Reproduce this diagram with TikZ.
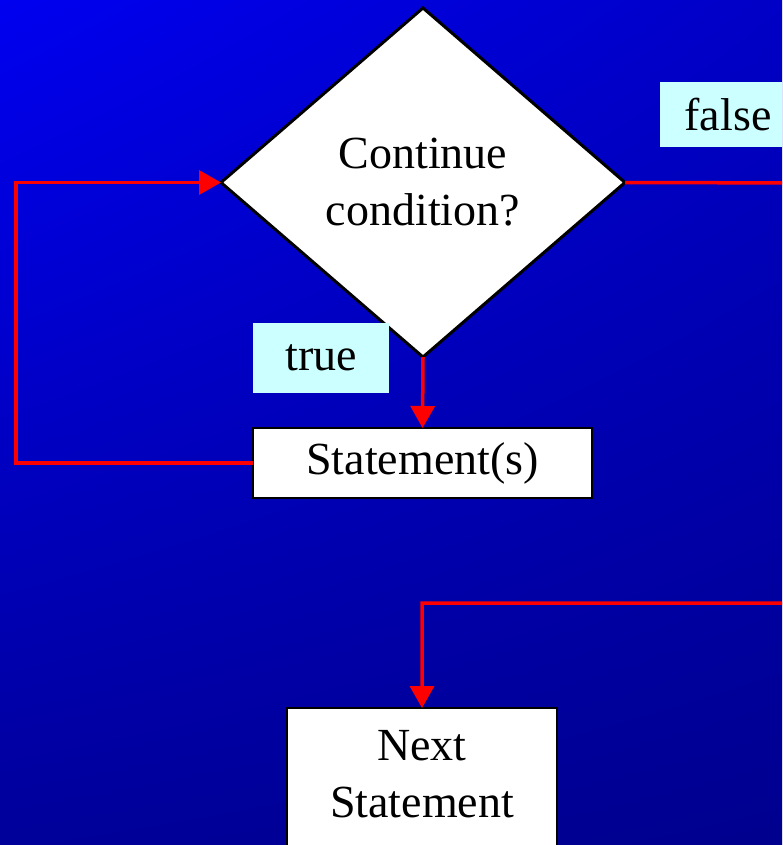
\documentclass[tikz,border=0pt]{standalone}
\usepackage{fontspec}
\setmainfont{Liberation Serif}
\usetikzlibrary{shapes.geometric,arrows.meta,shadings}

\definecolor{bgTL}{HTML}{0000F0}
\definecolor{bgTR}{HTML}{0000C6}
\definecolor{bgBL}{HTML}{00009A}
\definecolor{bgBR}{HTML}{00008E}
\definecolor{tagfill}{HTML}{CCFFFF}
\definecolor{flowred}{HTML}{FF0000}

\tikzset{
  bigtext/.style={font=\fontsize{46}{57}\selectfont, text=black, align=center},
  decision/.style={diamond, draw=black, fill=white, line width=3pt, inner sep=0pt,
    outer sep=0pt, minimum width=404pt, minimum height=349pt, bigtext},
  stepbox/.style={rectangle, draw=black, fill=white, line width=2.5pt, inner sep=0pt,
    outer sep=0pt, bigtext},
  tag/.style={rectangle, fill=tagfill, inner sep=0pt, bigtext},
  flow/.style={draw=flowred, line width=3.5pt,
    -{Triangle[width=24pt,length=22pt]}},
}

\begin{document}
\begin{tikzpicture}[x=1pt,y=-1pt]
  \useasboundingbox (0,0) rectangle (782,845);
  \clip (0,0) rectangle (782,845);
  % slide background
  \shade[upper left=bgTL, upper right=bgTR, lower left=bgBL, lower right=bgBR]
    (0,0) rectangle (782,845);

  % nodes
  \node[decision] (dia) at (423,182.5) {Continue\\condition?};
  \node[stepbox, minimum width=339pt, minimum height=70pt] (stmt) at (422.5,463) {Statement(s)};
  \node[stepbox, minimum width=270pt, minimum height=160pt, anchor=north] (next) at (422,708) {};
  \node[bigtext, anchor=base] (nextA) at (422,760) {Next};
  \node[bigtext, anchor=base] (nextB) at (422,817) {Statement};

  \node[tag, minimum width=136pt, minimum height=70pt] (true) at (321,358) {true};
  \node[tag, minimum width=136pt, minimum height=65pt] (false) at (728,114.5) {false};

  % helper points for the routed connectors
  \coordinate (loopx) at (16,463);
  \coordinate (fr1) at (810,183);
  \coordinate (fr2) at (810,603);

  % connectors
  \draw[flow] (dia.south) -- (stmt.north);
  \draw[flow] (stmt.west) -- (loopx) |- (dia.west);
  \draw[flow] (dia.east) -- (fr1) -- (fr2) -| (next.north);
\end{tikzpicture}
\end{document}
